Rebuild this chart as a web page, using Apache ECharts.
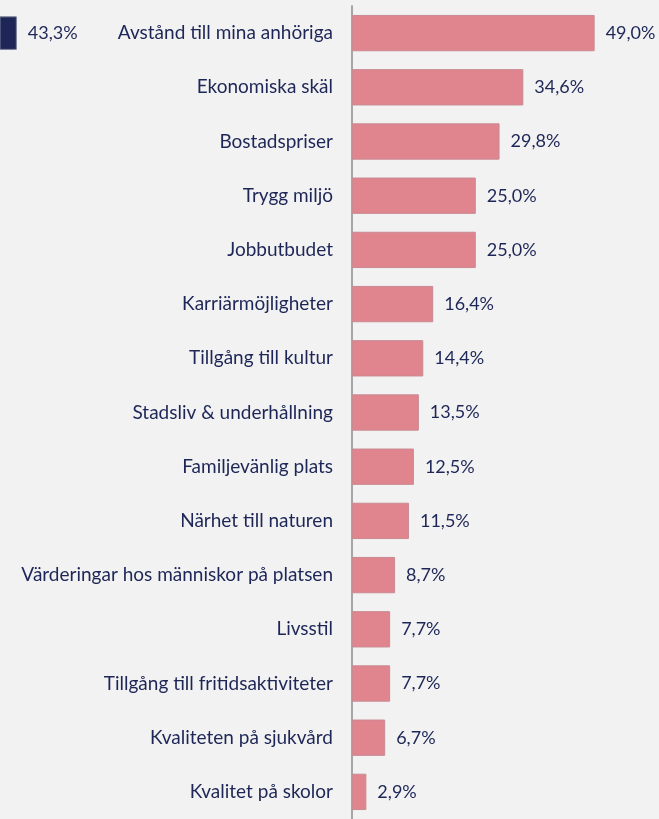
<!DOCTYPE html>
<html>
<head>
<meta charset="utf-8">
<script src="https://cdn.jsdelivr.net/npm/echarts@6/dist/echarts.min.js"></script>
<style>
  html, body { margin: 0; padding: 0; background: #f2f2f2; }
  #chart { width: 659px; height: 819px; }
</style>
</head>
<body>
<div id="chart"></div>
<script>
// Reasons for choosing where to live (share of respondents, %)
const categories = [
  'Avstånd till mina anhöriga',
  'Ekonomiska skäl',
  'Bostadspriser',
  'Trygg miljö',
  'Jobbutbudet',
  'Karriärmöjligheter',
  'Tillgång till kultur',
  'Stadsliv & underhållning',
  'Familjevänlig plats',
  'Närhet till naturen',
  'Värderingar hos människor på platsen',
  'Livsstil',
  'Tillgång till fritidsaktiviteter',
  'Kvaliteten på sjukvård',
  'Kvalitet på skolor'
];
const shares = [49.0, 34.6, 29.8, 25.0, 25.0, 16.4, 14.4, 13.5, 12.5, 11.5, 8.7, 7.7, 7.7, 6.7, 2.9];
// Neighbouring panel: only the tip of its first row reaches into view
const neighbourShares = [43.3, '-', '-', '-', '-', '-', '-', '-', '-', '-', '-', '-', '-', '-', '-'];

const navy = '#1d2656';
const fontFamily = "'Lato', 'Open Sans', sans-serif";
const fmt = v => v.toFixed(1).replace('.', ',') + '%';

const chart = echarts.init(document.getElementById('chart'));
chart.setOption({
  backgroundColor: '#f2f2f2',
  animation: false,
  grid: [
    { left: 352, top: 6, width: 307, height: 825, containLabel: false },
    { left: 0, top: 6, width: 307, height: 825, containLabel: false }
  ],
  xAxis: [
    { gridIndex: 0, type: 'value', min: 0, max: 62, show: false },
    // same scale as the main panel, shifted so only the last few units show
    { gridIndex: 1, type: 'value', min: 39.9, max: 101.9, show: false }
  ],
  yAxis: [
    {
      gridIndex: 0, type: 'category', data: categories, inverse: true,
      axisLine: { show: true, lineStyle: { color: '#a6a6a6', width: 2 } },
      axisTick: { show: false },
      splitLine: { show: false },
      axisLabel: { color: navy, fontSize: 19, fontFamily, margin: 19 }
    },
    {
      gridIndex: 1, type: 'category', data: categories, inverse: true, show: false
    }
  ],
  series: [
    {
      type: 'bar', xAxisIndex: 0, yAxisIndex: 0, data: shares,
      barCategoryGap: '33%',
      itemStyle: { color: '#e0848e', borderColor: '#c98a92', borderWidth: 1 },
      label: {
        show: true, position: 'right', distance: 11, color: navy,
        fontSize: 18, fontFamily, formatter: p => fmt(p.value)
      }
    },
    {
      type: 'bar', xAxisIndex: 1, yAxisIndex: 1, data: neighbourShares,
      barCategoryGap: '38%',
      itemStyle: { color: navy, borderColor: '#7a7f96', borderWidth: 1 },
      label: {
        show: true, position: 'right', distance: 11, color: navy,
        fontSize: 18, fontFamily, formatter: p => fmt(p.value)
      }
    }
  ]
});
</script>
</body>
</html>
